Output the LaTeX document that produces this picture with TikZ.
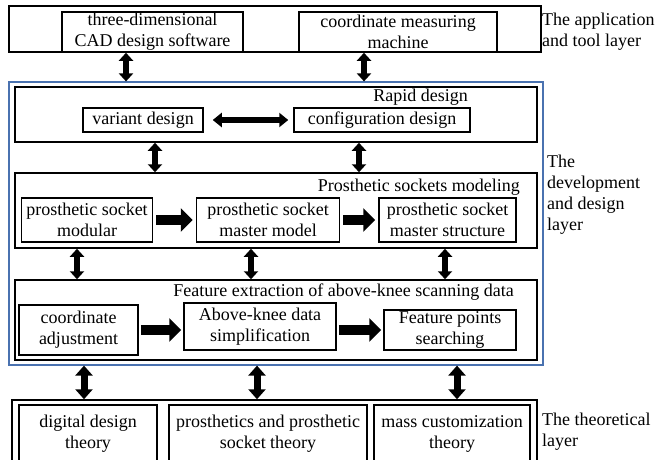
\documentclass[tikz,border=0pt]{standalone}
\usepackage{fontspec}
\setmainfont{Liberation Serif}
\usepackage{tikz}
\usetikzlibrary{arrows.meta}
\definecolor{layerblue}{RGB}{74,114,176}

\begin{document}
\begin{tikzpicture}[x=1pt,y=-1pt,
            every node/.style = {font=\fontsize{18}{21}\selectfont, align=center, inner sep=0pt},
            box/.style 2 args = {draw, line width=1.5pt, minimum width=#1, minimum height=#2},
            layerbox/.style 2 args = {draw=layerblue, line width=1.2pt, minimum width=#1, minimum height=#2},
            vbig/.style = {line width=7pt, {Triangle[width=17pt,length=10pt]}-{Triangle[width=17pt,length=10pt]}},
            vsmall/.style = {line width=5.5pt, {Triangle[width=14pt,length=8pt]}-{Triangle[width=14pt,length=8pt]}},
            hdbl/.style = {line width=6pt, {Triangle[width=14pt,length=9pt]}-{Triangle[width=14pt,length=9pt]}},
            hbig/.style = {line width=10pt, -{Triangle[width=23pt,length=12pt]}}
            ]
            \useasboundingbox (0,0) rectangle (655,459);

            % application and tool layer
            \node[box={532pt}{46pt}] (app) at (275,29) {};
            \node[box={181pt}{40pt}] (cad) at (152.5,32) {three-dimensional\\CAD design software};
            \node[box={198pt}{40pt}] (cmm) at (398,32) {coordinate measuring\\machine};
            \node[anchor=west, align=left] (applbl) at (542,32) {The application\\and tool layer};

            % development and design layer
            \node[layerbox={534pt}{283pt}] (blue) at (276,223.5) {};
            \node[anchor=west, align=left] (devlbl) at (547,195) {The\\development\\and design\\layer};

            \node[box={522pt}{55pt}] (rapid) at (276,114.5) {};
            \node[anchor=east] (rapidlbl) at (468,97) {Rapid design};
            \node[box={120pt}{24pt}] (variant) at (143,120) {variant design};
            \node[box={176pt}{24pt}] (config) at (382,120) {configuration design};

            \node[box={522pt}{75pt}] (modeling) at (276,210.5) {};
            \node[anchor=east] (modlbl) at (520,187) {Prosthetic sockets modeling};
            \node[box={131pt}{44pt}] (modular) at (87,220) {prosthetic socket\\modular};
            \node[box={143pt}{44pt}] (mastermodel) at (268,220) {prosthetic socket\\master model};
            \node[box={137pt}{44pt}] (masterstruct) at (447.5,220) {prosthetic socket\\master structure};

            \node[box={522pt}{80pt}] (feature) at (276,320) {};
            \node[anchor=east] (featlbl) at (514,292) {Feature extraction of above-knee scanning data};
            \node[box={119pt}{50pt}] (coordadj) at (78.5,330) {coordinate\\adjustment};
            \node[box={152pt}{47pt}] (simplify) at (260,326.5) {Above-knee data\\simplification};
            \node[box={132pt}{40pt}] (searching) at (450,330) {Feature points\\searching};

            % theoretical layer
            \node[box={525pt}{70pt}] (theory) at (274.5,435) {};
            \node[box={138pt}{57pt}] (digital) at (88,433.5) {digital design\\theory};
            \node[box={198pt}{57pt}] (socket) at (268,433.5) {prosthetics and prosthetic\\socket theory};
            \node[box={156pt}{57pt}] (masscust) at (452,433.5) {mass customization\\theory};
            \node[anchor=west, align=left] (theolbl) at (542,432) {The theoretical\\layer};

            \draw[vsmall] (app.south -| 126,0) -- (blue.north -| 126,0);
            \draw[vsmall] (app.south -| 364,0) -- (blue.north -| 364,0);
            \draw[hdbl] ([xshift=9pt]variant.east) -- ([xshift=-5pt]config.west);
            \draw[vsmall] (rapid.south -| 155,0) -- (modeling.north -| 155,0);
            \draw[vsmall] (rapid.south -| 359,0) -- (modeling.north -| 359,0);
            \draw[hbig] ([xshift=3pt]modular.east) -- ([xshift=-3pt]mastermodel.west);
            \draw[hbig] ([xshift=3pt]mastermodel.east) -- ([xshift=-3pt]masterstruct.west);
            \draw[vsmall] (modeling.south -| 77,0) -- (feature.north -| 77,0);
            \draw[vsmall] (modeling.south -| 251,0) -- (feature.north -| 251,0);
            \draw[vsmall] (modeling.south -| 445,0) -- (feature.north -| 445,0);
            \draw[hbig] ([xshift=2pt]coordadj.east) -- ([xshift=-2pt]coordadj.east -| simplify.west);
            \draw[hbig] ([xshift=2pt]simplify.east |- coordadj.east) -- ([xshift=-2pt]searching.west |- coordadj.east);
            \draw[vbig] (blue.south -| 84,0) -- (theory.north -| 84,0);
            \draw[vbig] (blue.south -| 257,0) -- (theory.north -| 257,0);
            \draw[vbig] (blue.south -| 457,0) -- (theory.north -| 457,0);
        \end{tikzpicture}
\end{document}
